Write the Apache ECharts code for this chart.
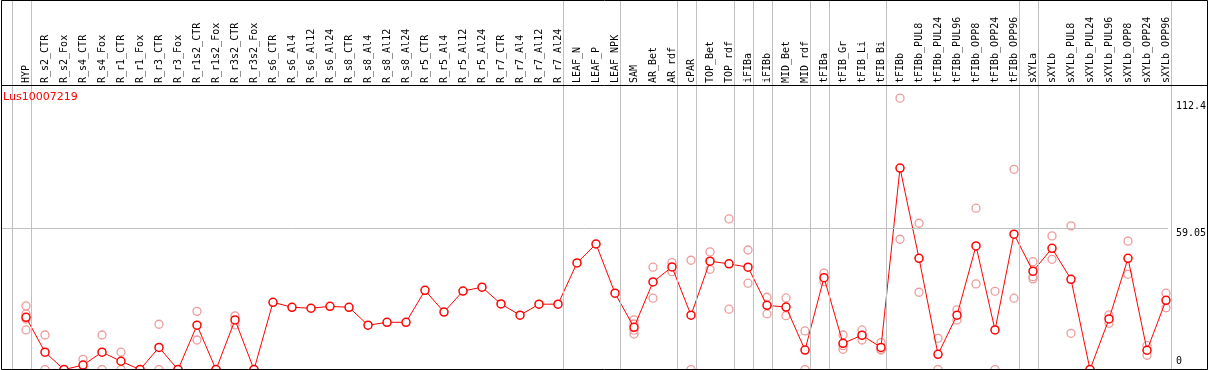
<!DOCTYPE html>
<html>
<head>
<meta charset="utf-8">
<script src="https://cdn.jsdelivr.net/npm/echarts@6/dist/echarts.min.js"></script>
<style>
html,body{margin:0;padding:0;background:#fff;}
#chart{width:1209px;height:370px;}
</style>
</head>
<body>
<div id="chart"></div>
<script>
const geneName = 'Lus10007219';
const categories = ['HYP','R_s2_CTR','R_s2_Fox','R_s4_CTR','R_s4_Fox','R_r1_CTR','R_r1_Fox','R_r3_CTR','R_r3_Fox','R_r1s2_CTR','R_r1s2_Fox','R_r3s2_CTR','R_r3s2_Fox','R_s6_CTR','R_s6_Al4','R_s6_Al12','R_s6_Al24','R_s8_CTR','R_s8_Al4','R_s8_Al12','R_s8_Al24','R_r5_CTR','R_r5_Al4','R_r5_Al12','R_r5_Al24','R_r7_CTR','R_r7_Al4','R_r7_Al12','R_r7_Al24','LEAF_N','LEAF_P','LEAF_NPK','SAM','AR_Bet','AR_rdf','cPAR','TOP_Bet','TOP_rdf','iFIBa','iFIBb','MID_Bet','MID_rdf','tFIBa','tFIB_Gr','tFIB_Li','tFIB_Bi','tFIBb','tFIBb_PUL8','tFIBb_PUL24','tFIBb_PUL96','tFIBb_OPP8','tFIBb_OPP24','tFIBb_OPP96','sXYLa','sXYLb','sXYLb_PUL8','sXYLb_PUL24','sXYLb_PUL96','sXYLb_OPP8','sXYLb_OPP24','sXYLb_OPP96'];
const means = [21.9,7.3,0,1.9,7.3,3.5,0,9.3,0,18.6,0,20.8,0,28.2,26.1,25.7,26.5,26.1,18.6,19.8,19.8,33.2,24.1,32.9,34.5,27.5,22.8,27.4,27.4,44.7,52.6,32.0,17.7,36.7,43.0,22.8,45.4,44.3,42.9,26.9,26.2,8.2,38.5,11.0,14.4,9.3,84.4,46.6,6.4,22.8,51.8,16.6,56.7,41.2,50.8,37.8,0,21.2,46.6,8.1,29.0];
const replicates = [
  [26.7,23.3,21.2,16.6],[14.5,0],[0,0],[4.3,0],[14.5,0],[7.3,0],[0,0],[19.0,0],[0,0],[24.4,12.4],[0,0],[22.5,18.7],[0,0],
  [],[],[],[],[],[],[],[],[],[],[],[],[],[],[],[],[],[],[],
  [20.8,19.1,16.5,14.9],[42.9,29.9],[44.8,41.0],[45.8,0],[49.3,42.0],[63.1,25.3],[50.1,36.2],[30.3,23.3],[30.0,22.6],[16.2,0],
  [40.4,36.8],[14.5,10.0,8.5],[16.6,14.3,12.4],[11.3,8.5,8.2],
  [113.7,54.6],[61.3,32.4],[13.1,0],[25.0,20.8],[67.6,35.9],[32.8,0],[83.9,29.9],
  [45.2,38.9,38.0],[56.0,46.2],[60.2,15.2],[0,0],[22.9,19.4],[53.8,39.9],[10.0,6.0],[32.0,25.9]
];
// index of the last category in each group (-1 = left edge of first group)
const groupEnds = [-1,0,28,31,34,35,37,38,39,41,42,45,52,53,60];
const yTickLabels = [0, 59.05, 112.4];
const yMax = 119.2;

const repData = [];
replicates.forEach((r, i) => r.forEach(v => repData.push([i, v])));
const sepOffset = 5.5 / 19;

const chart = echarts.init(document.getElementById('chart'), null, {renderer: 'canvas'});
chart.setOption({
  animation: false,
  backgroundColor: '#fff',
  title: {
    text: geneName, left: 3, top: 92, padding: 0,
    textStyle: {color: '#ff0000', fontSize: 11, fontWeight: 'normal', fontFamily: 'DejaVu Sans'}
  },
  grid: [
    {left: 16.5, width: 1159, top: 85, height: 284.6},
    {left: 1, width: 1171, top: 0, height: 369.5},
    {left: 1, width: 1169, top: 85, height: 284.6}
  ],
  xAxis: [
    {
      gridIndex: 0, type: 'category', data: categories, position: 'top', boundaryGap: true,
      axisLine: {show: false}, axisTick: {show: false}, splitLine: {show: false},
      axisLabel: {rotate: 90, interval: 0, margin: 2, fontSize: 10, fontFamily: 'DejaVu Sans Mono', color: '#000'}
    },
    {gridIndex: 1, type: 'value', min: -25 / 19, max: 1146 / 19, show: false},
    {gridIndex: 2, type: 'value', min: 0, max: 1, show: false}
  ],
  yAxis: [
    {gridIndex: 0, type: 'value', min: 0, max: yMax, show: false},
    {gridIndex: 1, type: 'value', min: 0, max: 1, show: false},
    {
      gridIndex: 2, type: 'value', min: 0, max: yMax, position: 'right',
      axisLine: {show: false}, axisTick: {show: false}, splitLine: {show: false},
      axisLabel: {customValues: yTickLabels.filter(v => v !== 0), verticalAlign: 'top', margin: 8,
        fontSize: 10, fontFamily: 'DejaVu Sans Mono', color: '#000', formatter: v => String(v)}
    },
    {
      gridIndex: 2, type: 'value', min: 0, max: yMax, position: 'right',
      axisLine: {show: false}, axisTick: {show: false}, splitLine: {show: false},
      axisLabel: {customValues: yTickLabels.filter(v => v === 0), verticalAlign: 'bottom', margin: 8,
        padding: [0, 0, 3, 0], fontSize: 10, fontFamily: 'DejaVu Sans Mono', color: '#000', formatter: v => String(v)}
    }
  ],
  series: [
    {
      type: 'line', xAxisIndex: 1, yAxisIndex: 1, data: [], silent: true,
      markLine: {
        silent: true, symbol: 'none', label: {show: false}, animation: false,
        lineStyle: {color: '#c0c0c0', type: 'solid', width: 1},
        data: groupEnds.map(k => ({xAxis: k + sepOffset}))
      }
    },
    {
      type: 'line', xAxisIndex: 2, yAxisIndex: 2, data: [], silent: true,
      markLine: {
        silent: true, symbol: 'none', label: {show: false}, animation: false,
        lineStyle: {color: '#c0c0c0', type: 'solid', width: 1},
        data: [{yAxis: yTickLabels[1]}]
      }
    },
    {
      type: 'scatter', xAxisIndex: 0, yAxisIndex: 0, data: repData, silent: true,
      symbol: 'circle', symbolSize: 8, z: 2,
      itemStyle: {color: 'rgba(255,255,255,0)', borderColor: '#ee9a9a', borderWidth: 1.3, opacity: 1}
    },
    {
      type: 'line', xAxisIndex: 0, yAxisIndex: 0, data: means, silent: true,
      symbol: 'circle', symbolSize: 8, showAllSymbol: true, z: 3,
      lineStyle: {color: '#ff0000', width: 1},
      itemStyle: {color: '#ffffff', borderColor: '#ff0000', borderWidth: 1.5}
    }
  ],
  graphic: [
    {type: 'rect', silent: true, z: 100, shape: {x: 1.5, y: 0.5, width: 1206, height: 369},
      style: {fill: 'none', stroke: '#000', lineWidth: 1}},
    {type: 'line', silent: true, z: 100, shape: {x1: 1.5, y1: 85.5, x2: 1207.5, y2: 85.5},
      style: {stroke: '#000', lineWidth: 1}}
  ]
});
</script>
</body>
</html>
